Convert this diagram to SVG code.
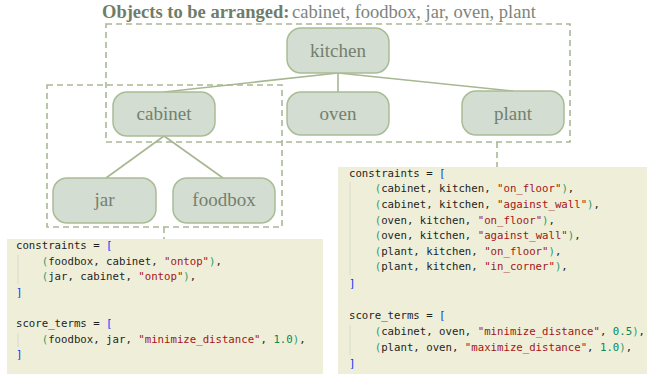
<svg xmlns="http://www.w3.org/2000/svg" width="647" height="374" viewBox="0 0 647 374">
<style>
.node rect{fill:#d3ddd1;stroke:#a9bc95;stroke-width:1.5}
.node text{font-family:"Liberation Serif",serif;font-size:19px;fill:#74806f;text-anchor:middle}
.edge{stroke:#a6b792;stroke-width:1.6;fill:none}
.dash{stroke:#a9b896;stroke-width:1.6;fill:none;stroke-dasharray:6 4}
.code{font-family:"DejaVu Sans Mono",monospace;font-size:10.7px;fill:#1e1e1e;white-space:pre}
.b{fill:#0431fa}.p{fill:#2f9a6a}.s{fill:#a31515}.n{fill:#098658}
.guide{stroke:#d8d8d0;stroke-width:1}
.box{fill:#efefd9}
</style>
<rect width="647" height="374" fill="#ffffff"/>
<g id="title">
<text x="102" y="17.5" font-family="Liberation Serif,serif" font-size="18.5px" font-weight="bold" fill="#6e7d69">Objects to be arranged:</text>
<text x="292" y="17.5" font-family="Liberation Serif,serif" font-size="18.5px" fill="#7d857a">cabinet, foodbox, jar, oven, plant</text>
</g>
<g id="groups">
<rect class="dash" x="106" y="24" width="464" height="118"/>
<rect class="dash" x="47" y="85" width="235" height="142"/>
<line class="dash" x1="164" y1="227" x2="164" y2="239"/>
<line class="dash" x1="497" y1="142" x2="497" y2="167"/>
</g>
<g id="connectors">
<line class="edge" x1="338" y1="73" x2="164" y2="92"/>
<line class="edge" x1="338" y1="73" x2="338" y2="92"/>
<line class="edge" x1="338" y1="73" x2="513" y2="91"/>
<line class="edge" x1="164" y1="136" x2="106" y2="178"/>
<line class="edge" x1="164" y1="136" x2="223" y2="178"/>
</g>
<g id="kitchen" class="node"><rect x="287" y="28" width="102" height="45" rx="14"/><text x="338" y="57">kitchen</text></g>
<g id="cabinet" class="node"><rect x="113" y="92" width="102" height="44" rx="14"/><text x="164" y="120">cabinet</text></g>
<g id="oven" class="node"><rect x="287" y="92" width="102" height="43" rx="14"/><text x="338" y="120">oven</text></g>
<g id="plant" class="node"><rect x="462" y="91" width="102" height="44" rx="14"/><text x="513" y="120">plant</text></g>
<g id="jar" class="node"><rect x="53" y="178" width="103" height="45" rx="14"/><text x="104.5" y="206">jar</text></g>
<g id="foodbox" class="node"><rect x="173" y="178" width="102" height="45" rx="14"/><text x="224" y="206">foodbox</text></g>
<g id="code-left">
<rect class="box" x="7" y="239" width="316" height="135"/>
<line class="guide" x1="18" y1="255" x2="18" y2="284"/>
<line class="guide" x1="18" y1="333" x2="18" y2="347"/>
<text class="code" x="16" y="249">constraints = <tspan class="b">[</tspan></text>
<text class="code" x="16" y="264.5">    <tspan class="p">(</tspan>foodbox, cabinet, <tspan class="s">"ontop"</tspan><tspan class="p">)</tspan>,</text>
<text class="code" x="16" y="280">    <tspan class="p">(</tspan>jar, cabinet, <tspan class="s">"ontop"</tspan><tspan class="p">)</tspan>,</text>
<text class="code b" x="16" y="296">]</text>
<text class="code" x="16" y="327">score_terms = <tspan class="b">[</tspan></text>
<text class="code" x="16" y="342.7">    <tspan class="p">(</tspan>foodbox, jar, <tspan class="s">"minimize_distance"</tspan>, <tspan class="n">1.0</tspan><tspan class="p">)</tspan>,</text>
<text class="code b" x="16" y="358">]</text>
</g>
<g id="code-right">
<rect class="box" x="338" y="167" width="309" height="207"/>
<line class="guide" x1="350" y1="182" x2="350" y2="275"/>
<line class="guide" x1="350" y1="325" x2="350" y2="355"/>
<text class="code" x="349" y="176.7">constraints = <tspan class="b">[</tspan></text>
<text class="code" x="349" y="192.3">    <tspan class="p">(</tspan>cabinet, kitchen, <tspan class="s">"on_floor"</tspan><tspan class="p">)</tspan>,</text>
<text class="code" x="349" y="208">    <tspan class="p">(</tspan>cabinet, kitchen, <tspan class="s">"against_wall"</tspan><tspan class="p">)</tspan>,</text>
<text class="code" x="349" y="223.5">    <tspan class="p">(</tspan>oven, kitchen, <tspan class="s">"on_floor"</tspan><tspan class="p">)</tspan>,</text>
<text class="code" x="349" y="239">    <tspan class="p">(</tspan>oven, kitchen, <tspan class="s">"against_wall"</tspan><tspan class="p">)</tspan>,</text>
<text class="code" x="349" y="254.7">    <tspan class="p">(</tspan>plant, kitchen, <tspan class="s">"on_floor"</tspan><tspan class="p">)</tspan>,</text>
<text class="code" x="349" y="270.3">    <tspan class="p">(</tspan>plant, kitchen, <tspan class="s">"in_corner"</tspan><tspan class="p">)</tspan>,</text>
<text class="code b" x="349" y="286.5">]</text>
<text class="code" x="349" y="319">score_terms = <tspan class="b">[</tspan></text>
<text class="code" x="349" y="335">    <tspan class="p">(</tspan>cabinet, oven, <tspan class="s">"minimize_distance"</tspan>, <tspan class="n">0.5</tspan><tspan class="p">)</tspan>,</text>
<text class="code" x="349" y="350.7">    <tspan class="p">(</tspan>plant, oven, <tspan class="s">"maximize_distance"</tspan>, <tspan class="n">1.0</tspan><tspan class="p">)</tspan>,</text>
<text class="code b" x="349" y="366.7">]</text>
</g>
</svg>
